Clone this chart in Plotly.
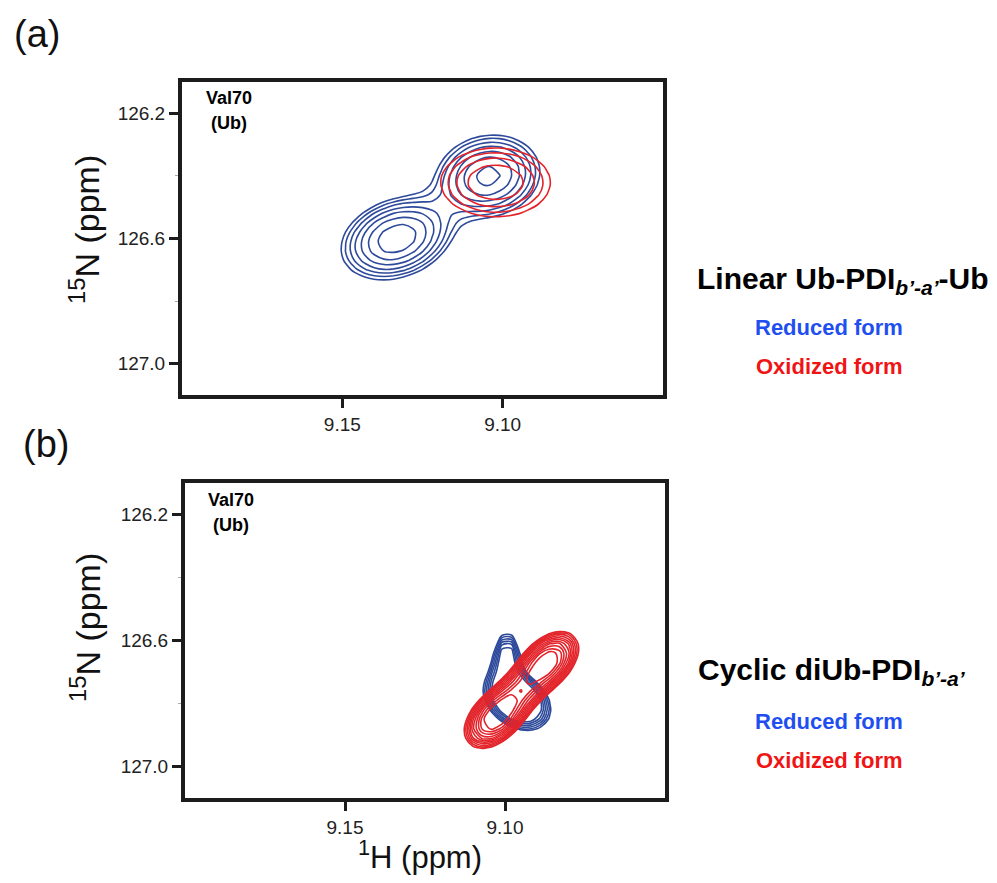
import numpy as np
import plotly.graph_objects as go

# page has an 8px body margin: draw a figure that fits inside it
OFF = 8
W, H = 997 - 2 * OFF, 883 - 2 * OFF

# ---------------- data (peak parameters) ----------------
# Panel (a): Linear Ub-PDI b'-a'-Ub, Val70 (Ub)
A_RED_FORM_X = [9.1330, 9.1045]        # reduced form (blue) peak centres, 1H ppm
A_RED_FORM_Y = [126.600, 126.400]      # 15N ppm
A_RED_FORM_SX = [0.0100, 0.0096]
A_RED_FORM_SY = [0.076, 0.078]
A_RED_FORM_RHO = [0.25, 0.10]
A_RED_FORM_AMP = [1.0, 0.90]
A_RED_FORM_LEVELS = [0.219, 1.25, 7]   # base fraction, factor, count

A_OX_FORM_X = [9.1022]                 # oxidized form (red)
A_OX_FORM_Y = [126.421]
A_OX_FORM_SX = [0.0138]
A_OX_FORM_SY = [0.089]
A_OX_FORM_RHO = [0.0]
A_OX_FORM_AMP = [1.0]
A_OX_FORM_LEVELS = [0.463, 1.21, 4]

# Panel (b): Cyclic diUb-PDI b'-a', Val70 (Ub)
B_RED_FORM_X = [9.0962, 9.0994]
B_RED_FORM_Y = [126.790, 126.650]
B_RED_FORM_SX = [0.0068, 0.0032]
B_RED_FORM_SY = [0.062, 0.060]
B_RED_FORM_RHO = [-0.3, 0.0]
B_RED_FORM_AMP = [1.0, 0.62]
B_RED_FORM_LEVELS = [0.30, 1.12, 6]

B_OX_FORM_X = [9.1031, 9.0948, 9.0865]
B_OX_FORM_Y = [126.846, 126.756, 126.666]
B_OX_FORM_SX = [0.0054, 0.0054, 0.0054]
B_OX_FORM_SY = [0.054, 0.054, 0.054]
B_OX_FORM_RHO = [0.42, 0.42, 0.42]
B_OX_FORM_AMP = [1.0, 0.50, 0.95]
B_OX_FORM_LEVELS = [0.20, 1.15, 11]

X_TICKS = [9.15, 9.10]
X_TICK_TEXT = ["9.15", "9.10"]
Y_TICKS = [126.2, 126.6, 127.0]
Y_TICK_TEXT = ["126.2", "126.6", "127.0"]
Y_MINOR = [126.4, 126.8]

X_RANGE = [9.20, 9.05]
Y_RANGE = [127.1, 126.1]

BLUE = "#2e4a9b"
RED = "#e3242b"
FONT = "Liberation Sans, Arial, Helvetica, sans-serif"

xg = np.arange(9.20, 9.05 - 1e-9, -0.003)
yg = np.arange(126.10, 127.10 + 1e-9, 0.03)
XX, YY = np.meshgrid(xg, yg)


def spectrum(px, py, sx, sy, rho, amp):
    z = np.zeros_like(XX)
    for x0, y0, a, b, r, A in zip(px, py, sx, sy, rho, amp):
        u = (XX - x0) / a
        v = (YY - y0) / b
        z += A * np.exp(-(u * u - 2 * r * u * v + v * v) / (2 * (1 - r * r)))
    return np.log(np.maximum(z, 1e-12))


def contour(z, levels, color, xa, ya):
    base, fac, n = levels
    start = np.log(base)
    size = np.log(fac)
    return go.Contour(
        x=xg, y=yg, z=z, xaxis=xa, yaxis=ya,
        autocontour=False,
        contours=dict(coloring="lines", start=start, end=start + size * (n - 1) + 1e-6,
                      size=size, showlabels=False),
        line=dict(width=1.6),
        colorscale=[[0, color], [1, color]],
        showscale=False, hoverinfo="skip",
    )


fig = go.Figure()
fig.add_trace(contour(spectrum(A_RED_FORM_X, A_RED_FORM_Y, A_RED_FORM_SX, A_RED_FORM_SY,
                               A_RED_FORM_RHO, A_RED_FORM_AMP), A_RED_FORM_LEVELS, BLUE, "x", "y"))
fig.add_trace(contour(spectrum(A_OX_FORM_X, A_OX_FORM_Y, A_OX_FORM_SX, A_OX_FORM_SY,
                               A_OX_FORM_RHO, A_OX_FORM_AMP), A_OX_FORM_LEVELS, RED, "x", "y"))
fig.add_trace(contour(spectrum(B_RED_FORM_X, B_RED_FORM_Y, B_RED_FORM_SX, B_RED_FORM_SY,
                               B_RED_FORM_RHO, B_RED_FORM_AMP), B_RED_FORM_LEVELS, BLUE, "x2", "y2"))
fig.add_trace(contour(spectrum(B_OX_FORM_X, B_OX_FORM_Y, B_OX_FORM_SX, B_OX_FORM_SY,
                               B_OX_FORM_RHO, B_OX_FORM_AMP), B_OX_FORM_LEVELS, RED, "x2", "y2"))


def fx(px):
    return (px - OFF) / W


def fy(py):
    return 1 - (py - OFF) / H


def xaxis(dom):
    return dict(domain=dom, range=X_RANGE, tickvals=X_TICKS, ticktext=X_TICK_TEXT,
                showline=True, mirror=True, linewidth=4, linecolor="#1c1c1c",
                ticks="outside", ticklen=9, tickwidth=3, tickcolor="#1c1c1c",
                showgrid=False, zeroline=False,
                tickfont=dict(family=FONT, size=19, color="#222"))


def yaxis(dom, anchor):
    return dict(domain=dom, range=Y_RANGE, tickvals=Y_TICKS, ticktext=Y_TICK_TEXT,
                anchor=anchor,
                showline=True, mirror=True, linewidth=4, linecolor="#1c1c1c",
                ticks="outside", ticklen=9, tickwidth=3, tickcolor="#1c1c1c",
                minor=dict(tickvals=Y_MINOR, ticks="outside", ticklen=3, tickwidth=1,
                           tickcolor="#aaaaaa"),
                showgrid=False, zeroline=False,
                tickfont=dict(family=FONT, size=19, color="#222"))


fig.update_layout(
    width=W, height=H,
    margin=dict(l=0, r=0, t=0, b=0),
    paper_bgcolor="white", plot_bgcolor="white",
    showlegend=False,
    xaxis=dict(xaxis([fx(182), fx(663)]), anchor="y"),
    yaxis=yaxis([fy(395), fy(82)], "x"),
    xaxis2=dict(xaxis([fx(185), fx(665)]), anchor="y2"),
    yaxis2=yaxis([fy(798), fy(483)], "x2"),
)

annots = []


def text(px, py, s, size, color="black", angle=0):
    annots.append(dict(x=fx(px), y=fy(py), xref="paper", yref="paper", text=s,
                       showarrow=False, xanchor="center", yanchor="middle",
                       textangle=angle,
                       font=dict(family=FONT, size=size, color=color)))


text(37, 34, "(a)", 38, "#111")
text(46, 444, "(b)", 38, "#111")
text(85, 230, "<sup>15</sup>N (ppm)", 34, "#111", angle=-90)
text(85, 628, "<sup>15</sup>N (ppm)", 34, "#111", angle=-90)
text(420, 855, "<sup>1</sup>H (ppm)", 31, "#111")

text(229, 98, "<b>Val70</b>", 18)
text(229, 123, "<b>(Ub)</b>", 18)
text(231, 500, "<b>Val70</b>", 18)
text(231, 525, "<b>(Ub)</b>", 18)

text(843, 280, "<b>Linear Ub-PDI<sub><i>b’-a’</i></sub>-Ub</b>", 30)
text(829, 327, "<b>Reduced form</b>", 22, "#1f4ff0")
text(829, 366, "<b>Oxidized form</b>", 22, "#f01414")

text(832, 671, "<b>Cyclic diUb-PDI<sub><i>b’-a’</i></sub></b>", 30)
text(829, 721, "<b>Reduced form</b>", 22, "#1f4ff0")
text(829, 760, "<b>Oxidized form</b>", 22, "#f01414")

fig.update_layout(annotations=annots)
fig.write_html("out.html")
